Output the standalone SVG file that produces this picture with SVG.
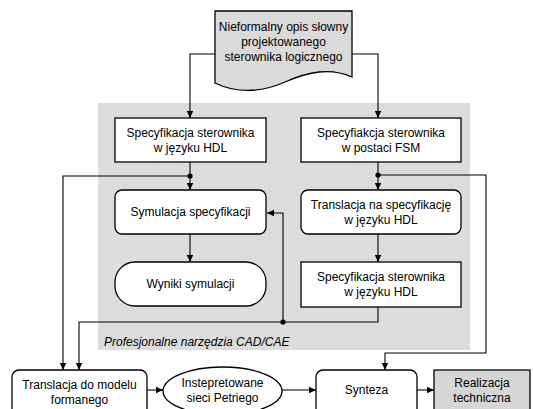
<svg xmlns="http://www.w3.org/2000/svg" width="533" height="409" viewBox="0 0 533 409">
<defs>
<marker id="arr" markerWidth="8" markerHeight="8" refX="7" refY="4" orient="auto" markerUnits="userSpaceOnUse">
<path d="M0,0.8 L7,4 L0,7.2 Z" fill="#000"/>
</marker>
<style>
.t{font-family:"Liberation Sans",Arial,sans-serif;font-size:12px;fill:#000;text-anchor:middle}
.b{fill:#fff;stroke:#000;stroke-width:1.3}
.c{fill:none;stroke:#000;stroke-width:1.1;marker-end:url(#arr)}
.l{fill:none;stroke:#000;stroke-width:1.1}
</style>
</defs>
<rect x="98" y="103" width="372" height="247" fill="#dcdcdc"/>
<text x="104" y="346" style="font-family:'Liberation Sans',Arial,sans-serif;font-size:12px;font-style:italic">Profesjonalne narzędzia CAD/CAE</text>

<g id="connectors">
<path class="c" d="M215,54 H190 V118"/>
<path class="c" d="M352,54 H378 V118"/>
<path class="c" d="M190,162 V190"/>
<path class="c" d="M190,176 H63 V370"/>
<path class="c" d="M190,234 V262"/>
<path class="c" d="M378,162 V190"/>
<path class="c" d="M378,175 H486 V353 H385 V370"/>
<path class="c" d="M378,234 V262"/>
<path class="l" d="M378,307 V322 H283"/>
<path class="c" d="M283,322 H79 V370"/>
<path class="c" d="M283,322 V213 H267"/>
<path class="c" d="M147,390 H163"/>
<path class="c" d="M282,390 H316"/>
<path class="c" d="M417,390 H434"/>
<circle cx="190" cy="176" r="2.6"/>
<circle cx="378" cy="175" r="2.6"/>
<circle cx="283" cy="322" r="2.6"/>
</g>

<g id="opis">
<path d="M215,11 H352 V77 C330,67 308,72 285,82 C262,92 238,94 215,83 Z" fill="#dadada" stroke="#000" stroke-width="1.3"/>
<text class="t" x="283.5" y="31">Nieformalny opis słowny</text>
<text class="t" x="283.5" y="46">projektowanego</text>
<text class="t" x="283.5" y="61">sterownika logicznego</text>
</g>

<g id="spec-hdl">
<rect class="b" x="115" y="118" width="151" height="44"/>
<text class="t" x="190.5" y="137">Specyfikacja sterownika</text>
<text class="t" x="190.5" y="152">w języku HDL</text>
</g>

<g id="spec-fsm">
<rect class="b" x="301" y="118" width="160" height="44"/>
<text class="t" x="381" y="137">Specyfiakcja sterownika</text>
<text class="t" x="381" y="152">w postaci FSM</text>
</g>

<g id="symulacja">
<rect class="b" x="115" y="190" width="151" height="44" rx="7"/>
<text class="t" x="190.5" y="216">Symulacja specyfikacji</text>
</g>

<g id="wyniki">
<rect class="b" x="115" y="262" width="151" height="44" rx="20"/>
<text class="t" x="190.5" y="288">Wyniki symulacji</text>
</g>

<g id="translacja-hdl">
<rect class="b" x="301" y="190" width="160" height="44" rx="7"/>
<text class="t" x="381" y="209">Translacja na specyfikację</text>
<text class="t" x="381" y="224">w języku HDL</text>
</g>

<g id="spec-hdl2">
<rect class="b" x="301" y="262" width="160" height="45"/>
<text class="t" x="381" y="281">Specyfikacja sterownika</text>
<text class="t" x="381" y="296">w języku HDL</text>
</g>

<g id="translacja-model">
<rect class="b" x="12" y="370" width="135" height="50" rx="7"/>
<text class="t" x="79.5" y="389">Translacja do modelu</text>
<text class="t" x="79.5" y="404">formanego</text>
</g>

<g id="petri">
<ellipse class="b" cx="222.5" cy="391" rx="59.5" ry="24"/>
<text class="t" x="222.5" y="387">Instepretowane</text>
<text class="t" x="222.5" y="402">sieci Petriego</text>
</g>

<g id="synteza">
<rect class="b" x="316" y="370" width="101" height="50" rx="7"/>
<text class="t" x="366.5" y="394">Synteza</text>
</g>

<g id="realizacja">
<rect x="434" y="370" width="96" height="50" fill="#d6d6d6" stroke="#000" stroke-width="1.3"/>
<text class="t" x="482" y="387">Realizacja</text>
<text class="t" x="482" y="402">techniczna</text>
</g>
</svg>
